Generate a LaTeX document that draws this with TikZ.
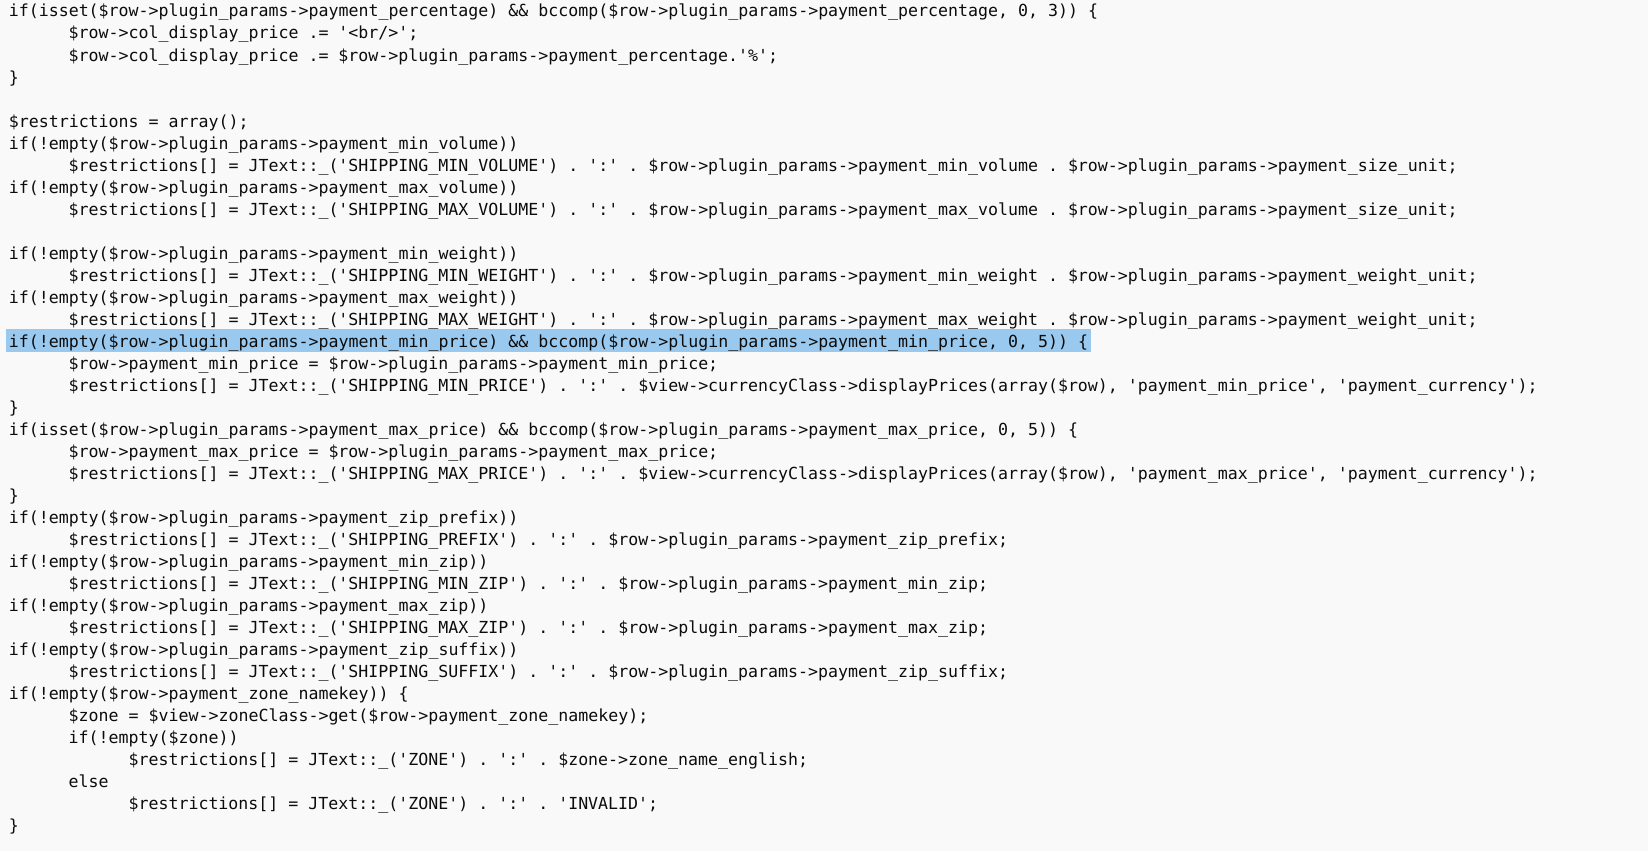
\documentclass[tikz,border=0pt]{standalone}
\usepackage{fontspec}
\setmonofont{DejaVu Sans Mono}
\usepackage{tikz}
\definecolor{paper}{HTML}{F9F9F9}
\definecolor{ink}{HTML}{0C0C0C}
\definecolor{selblue}{HTML}{99C9EF}
\tikzset{
		codeline/.style={anchor=base west, inner sep=0pt, text=ink, font=\ttfamily\fontsize{8.3}{10}\selectfont},
		selected/.style={codeline, fill=selblue, inner xsep=1.2pt, text height=9pt, text depth=2.5pt, xshift=-1.2pt}
	}
\frenchspacing
\begin{document}
\begin{tikzpicture}[x=4.99pt, y=-11pt]
				\fill[paper] (-4.2pt,8.5pt) rectangle (819.8pt,-417pt);
				\useasboundingbox (-4.2pt,8.5pt) rectangle (819.8pt,-417pt);
				\node[codeline] (l1)  at (0,0)   {if(isset(\$row->plugin\_params->payment\_percentage) \&\& bccomp(\$row->plugin\_params->payment\_percentage, 0, 3)) \{};
				\node[codeline] (l2)  at (6,1)   {\$row->col\_display\_price .= '<br/>';};
				\node[codeline] (l3)  at (6,2)   {\$row->col\_display\_price .= \$row->plugin\_params->payment\_percentage.'\%';};
				\node[codeline] (l4)  at (0,3)   {\}};
				\node[codeline] (l6)  at (0,5)   {\$restrictions = array();};
				\node[codeline] (l7)  at (0,6)   {if(!empty(\$row->plugin\_params->payment\_min\_volume))};
				\node[codeline] (l8)  at (6,7)   {\$restrictions[] = JText::\_('SHIPPING\_MIN\_VOLUME') . ':' . \$row->plugin\_params->payment\_min\_volume . \$row->plugin\_params->payment\_size\_unit;};
				\node[codeline] (l9)  at (0,8)   {if(!empty(\$row->plugin\_params->payment\_max\_volume))};
				\node[codeline] (l10) at (6,9)   {\$restrictions[] = JText::\_('SHIPPING\_MAX\_VOLUME') . ':' . \$row->plugin\_params->payment\_max\_volume . \$row->plugin\_params->payment\_size\_unit;};
				\node[codeline] (l12) at (0,11)  {if(!empty(\$row->plugin\_params->payment\_min\_weight))};
				\node[codeline] (l13) at (6,12)  {\$restrictions[] = JText::\_('SHIPPING\_MIN\_WEIGHT') . ':' . \$row->plugin\_params->payment\_min\_weight . \$row->plugin\_params->payment\_weight\_unit;};
				\node[codeline] (l14) at (0,13)  {if(!empty(\$row->plugin\_params->payment\_max\_weight))};
				\node[codeline] (l15) at (6,14)  {\$restrictions[] = JText::\_('SHIPPING\_MAX\_WEIGHT') . ':' . \$row->plugin\_params->payment\_max\_weight . \$row->plugin\_params->payment\_weight\_unit;};
				\node[selected] (l16) at (0,15)  {if(!empty(\$row->plugin\_params->payment\_min\_price) \&\& bccomp(\$row->plugin\_params->payment\_min\_price, 0, 5)) \{};
				\node[codeline] (l17) at (6,16)  {\$row->payment\_min\_price = \$row->plugin\_params->payment\_min\_price;};
				\node[codeline] (l18) at (6,17)  {\$restrictions[] = JText::\_('SHIPPING\_MIN\_PRICE') . ':' . \$view->currencyClass->displayPrices(array(\$row), 'payment\_min\_price', 'payment\_currency');};
				\node[codeline] (l19) at (0,18)  {\}};
				\node[codeline] (l20) at (0,19)  {if(isset(\$row->plugin\_params->payment\_max\_price) \&\& bccomp(\$row->plugin\_params->payment\_max\_price, 0, 5)) \{};
				\node[codeline] (l21) at (6,20)  {\$row->payment\_max\_price = \$row->plugin\_params->payment\_max\_price;};
				\node[codeline] (l22) at (6,21)  {\$restrictions[] = JText::\_('SHIPPING\_MAX\_PRICE') . ':' . \$view->currencyClass->displayPrices(array(\$row), 'payment\_max\_price', 'payment\_currency');};
				\node[codeline] (l23) at (0,22)  {\}};
				\node[codeline] (l24) at (0,23)  {if(!empty(\$row->plugin\_params->payment\_zip\_prefix))};
				\node[codeline] (l25) at (6,24)  {\$restrictions[] = JText::\_('SHIPPING\_PREFIX') . ':' . \$row->plugin\_params->payment\_zip\_prefix;};
				\node[codeline] (l26) at (0,25)  {if(!empty(\$row->plugin\_params->payment\_min\_zip))};
				\node[codeline] (l27) at (6,26)  {\$restrictions[] = JText::\_('SHIPPING\_MIN\_ZIP') . ':' . \$row->plugin\_params->payment\_min\_zip;};
				\node[codeline] (l28) at (0,27)  {if(!empty(\$row->plugin\_params->payment\_max\_zip))};
				\node[codeline] (l29) at (6,28)  {\$restrictions[] = JText::\_('SHIPPING\_MAX\_ZIP') . ':' . \$row->plugin\_params->payment\_max\_zip;};
				\node[codeline] (l30) at (0,29)  {if(!empty(\$row->plugin\_params->payment\_zip\_suffix))};
				\node[codeline] (l31) at (6,30)  {\$restrictions[] = JText::\_('SHIPPING\_SUFFIX') . ':' . \$row->plugin\_params->payment\_zip\_suffix;};
				\node[codeline] (l32) at (0,31)  {if(!empty(\$row->payment\_zone\_namekey)) \{};
				\node[codeline] (l33) at (6,32)  {\$zone = \$view->zoneClass->get(\$row->payment\_zone\_namekey);};
				\node[codeline] (l34) at (6,33)  {if(!empty(\$zone))};
				\node[codeline] (l35) at (12,34) {\$restrictions[] = JText::\_('ZONE') . ':' . \$zone->zone\_name\_english;};
				\node[codeline] (l36) at (6,35)  {else};
				\node[codeline] (l37) at (12,36) {\$restrictions[] = JText::\_('ZONE') . ':' . 'INVALID';};
				\node[codeline] (l38) at (0,37)  {\}};
			\end{tikzpicture}
\end{document}
